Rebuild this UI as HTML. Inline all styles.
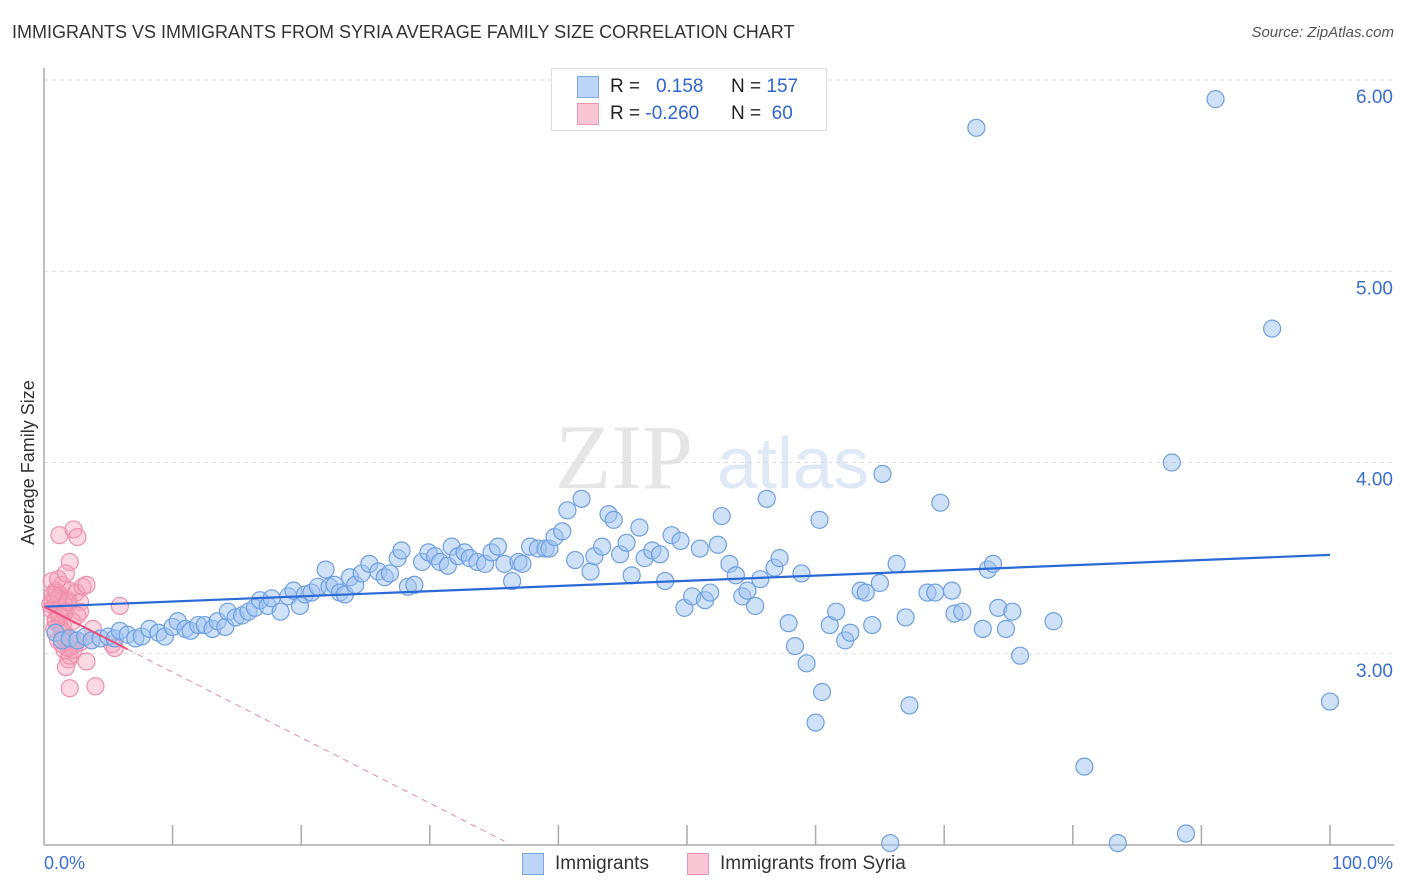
<!DOCTYPE html>
<html><head><meta charset="utf-8">
<style>
body{margin:0;background:#fff;font-family:"Liberation Sans",sans-serif;}
#wrap{position:relative;width:1406px;height:892px;overflow:hidden;}
.t{position:absolute;white-space:nowrap;}
</style></head><body>
<div id="wrap">
<div class="t" style="left:12px;top:22px;font-size:18px;color:#333;">IMMIGRANTS VS IMMIGRANTS FROM SYRIA AVERAGE FAMILY SIZE CORRELATION CHART</div>
<div class="t" style="right:12px;top:24px;font-size:15px;color:#555;font-style:italic;">Source: ZipAtlas.com</div>
<svg id="svg" width="1406" height="892" style="position:absolute;left:0;top:0"></svg>
</div>
<script>
const yTicks=[3,4,5,6];
const yTickLabels=["3.00","4.00","5.00","6.00"];
const xTicks=[10,20,30,40,50,60,70,80,90,100];
const blueX=[0.9,1.4,2.0,2.6,3.2,3.7,4.4,5.0,5.5,5.9,6.5,7.1,7.6,8.2,8.9,9.4,10.0,10.4,11.0,11.4,12.0,12.5,13.1,13.5,14.1,14.3,14.9,15.4,15.9,16.4,16.8,17.4,17.7,18.4,19.0,19.4,19.9,20.3,20.8,21.3,21.9,22.2,22.6,23.0,23.4,23.8,24.2,24.7,25.3,26.0,26.5,26.9,27.5,27.8,28.3,28.8,29.4,29.9,30.4,30.8,31.4,31.7,32.2,32.7,33.1,33.7,34.3,34.8,35.3,35.8,36.4,36.9,37.2,37.8,38.4,39.0,39.3,39.7,40.3,40.7,41.3,41.8,42.5,42.8,43.4,43.9,44.3,44.8,45.3,45.7,46.3,46.7,47.3,47.9,48.3,48.8,49.5,49.8,50.4,51.0,51.4,51.8,52.4,52.7,53.3,53.8,54.3,54.7,55.3,55.7,56.2,56.8,57.2,57.9,58.4,58.9,59.3,60.0,60.5,60.3,61.1,61.6,62.3,62.7,63.5,63.9,64.4,65.0,65.2,65.8,66.3,67.0,67.3,68.7,69.3,69.7,70.6,70.8,71.4,72.5,73.0,73.4,73.8,74.2,74.8,75.3,75.9,78.5,80.9,83.5,87.7,88.8,91.1,95.5,100];
const blueY=[3.11,3.07,3.08,3.07,3.09,3.07,3.08,3.09,3.08,3.12,3.10,3.08,3.09,3.13,3.11,3.09,3.14,3.17,3.13,3.12,3.15,3.15,3.13,3.17,3.14,3.22,3.19,3.20,3.22,3.24,3.28,3.25,3.29,3.22,3.30,3.33,3.25,3.31,3.32,3.35,3.44,3.35,3.36,3.32,3.31,3.40,3.36,3.42,3.47,3.43,3.40,3.42,3.50,3.54,3.35,3.36,3.48,3.53,3.51,3.48,3.46,3.56,3.51,3.53,3.50,3.48,3.47,3.53,3.56,3.47,3.38,3.48,3.47,3.56,3.55,3.55,3.55,3.61,3.64,3.75,3.49,3.81,3.43,3.51,3.56,3.73,3.70,3.52,3.58,3.41,3.66,3.50,3.54,3.52,3.38,3.62,3.59,3.24,3.30,3.55,3.28,3.32,3.57,3.72,3.47,3.41,3.30,3.33,3.25,3.39,3.81,3.45,3.50,3.16,3.04,3.42,2.95,2.64,2.80,3.70,3.15,3.22,3.07,3.11,3.33,3.32,3.15,3.37,3.94,2.01,3.47,3.19,2.73,3.32,3.32,3.79,3.33,3.21,3.22,5.75,3.13,3.44,3.47,3.24,3.13,3.22,2.99,3.17,2.41,2.01,4.00,2.06,5.90,4.70,2.75];
const pinkX=[0.7,0.9,1.0,1.1,1.2,0.6,0.9,1.4,1.6,1.7,1.9,2.0,1.2,2.3,2.6,2.0,2.5,2.8,3.0,3.3,2.8,5.9,1.1,1.4,1.6,1.9,2.0,2.2,1.7,2.0,4.0,3.3,3.8,5.3,5.5,2.4,2.8,1.2,1.5,0.6,0.9,1.0,1.4,1.6,1.8,0.9,1.1,1.2,0.5,0.7,2.2,2.6,3.7,1.9,2.3,0.8,1.4,1.6,1.1,1.7];
const pinkY=[3.28,3.33,3.26,3.22,3.31,3.38,3.18,3.24,3.29,3.22,3.28,3.33,3.62,3.65,3.61,3.48,3.32,3.27,3.35,3.36,3.22,3.25,3.07,3.05,3.02,2.97,2.99,3.07,2.93,2.82,2.83,2.96,3.13,3.05,3.03,3.05,3.06,3.15,3.14,3.23,3.28,3.32,3.36,3.22,3.27,3.17,3.29,3.20,3.26,3.31,3.17,3.20,3.07,3.03,3.02,3.13,3.12,3.08,3.39,3.42];
const blueTrend=[3.246,3.517];
const pinkTrend=[3.246,2.02]; // at x=0 and x=35.8
const pinkTrendEndX=35.8;
const pinkSolidEndX=6.5;

const NS="http://www.w3.org/2000/svg";
const svg=document.getElementById('svg');
const X0=44,X1=1330,Y0=845,PPU=191.25,YMIN=2;
function sx(v){return X0+(X1-X0)*v/100;}
function sy(v){return Y0-(v-YMIN)*PPU;}
function mk(tag,attrs){const e=document.createElementNS(NS,tag);for(const k in attrs)e.setAttribute(k,attrs[k]);svg.appendChild(e);return e;}

// watermark
let wm=mk('text',{x:555,y:488,'font-size':92,'font-family':'Liberation Serif, serif',fill:'#e6e6e6'});wm.textContent='ZIP';


let wm2=mk('text',{x:717,y:488,'font-size':72,'font-family':'Liberation Sans, sans-serif',fill:'#dfe8f5'});wm2.textContent='atlas';



// grid + y labels
yTicks.forEach((v,i)=>{
  const g=mk('line',{x1:X0,x2:1394,y1:sy(v),y2:sy(v),stroke:'#dcdcdc','stroke-dasharray':'4,4'});
  
  
  const t=mk('text',{x:1393,y:sy(v)+23,'text-anchor':'end','font-size':19,fill:'#3a6fd0'});
  t.textContent=yTickLabels[i];
  
  
});
// axes
let ax=mk('line',{x1:X0,x2:X0,y1:68,y2:Y0,stroke:'#aaa','stroke-width':1.5});


let bx=mk('line',{x1:X0,x2:1394,y1:Y0,y2:Y0,stroke:'#aaa','stroke-width':1.5});


xTicks.forEach(v=>{
  const l=mk('line',{x1:sx(v),x2:sx(v),y1:825,y2:Y0,stroke:'#aaa','stroke-width':1.5});
  
  
});
// points
pinkX.forEach((x,i)=>{
  const c=mk('circle',{cx:sx(x),cy:sy(pinkY[i]),r:8.5,fill:'rgba(244,160,186,0.4)',stroke:'#ee8fac','stroke-width':1.2});
  
  
});
blueX.forEach((x,i)=>{
  const c=mk('circle',{cx:sx(x),cy:sy(blueY[i]),r:8.5,fill:'rgba(160,195,240,0.5)',stroke:'#6f9fe2','stroke-width':1.2});
  
  
});
// trends
let bt=mk('line',{x1:sx(0),y1:sy(blueTrend[0]),x2:sx(100),y2:sy(blueTrend[1]),stroke:'#2b6ad6','stroke-width':2.2});


const ps=(pinkTrend[1]-pinkTrend[0])/pinkTrendEndX;
let pt1=mk('line',{x1:sx(0),y1:sy(pinkTrend[0]),x2:sx(pinkSolidEndX),y2:sy(pinkTrend[0]+ps*pinkSolidEndX),stroke:'#e8507e','stroke-width':2});


let pt2=mk('line',{x1:sx(pinkSolidEndX),y1:sy(pinkTrend[0]+ps*pinkSolidEndX),x2:sx(pinkTrendEndX),y2:sy(pinkTrend[1]),stroke:'#eb8aa6','stroke-width':1,'stroke-dasharray':'6,5'});


</script>
<div class="t" style="left:18px;top:545px;transform:rotate(-90deg);transform-origin:0 0;font-size:18px;color:#333;">Average Family Size</div>
<div class="t" style="left:44px;top:853px;font-size:18px;color:#3a6fd0;">0.0%</div>
<div class="t" style="right:13px;top:853px;font-size:18px;color:#3a6fd0;">100.0%</div>
<div class="t" style="left:551px;top:68px;width:274px;height:61px;border:1px solid #ddd;background:#fff;">
  <div class="t" style="left:25px;top:7px;width:20px;height:20px;background:#bcd4f6;border:1px solid #7fa8e6;"></div>
  <div class="t" style="left:58px;top:7px;font-size:19px;color:#222;">R = &nbsp;&nbsp;<span style="color:#2f66d0">0.158</span></div>
  <div class="t" style="left:179px;top:7px;font-size:19px;color:#222;">N = <span style="color:#2f66d0">157</span></div>
  <div class="t" style="left:25px;top:34px;width:20px;height:20px;background:#f8c6d5;border:1px solid #ee95b0;"></div>
  <div class="t" style="left:58px;top:34px;font-size:19px;color:#222;">R = <span style="color:#2f66d0">-0.260</span></div>
  <div class="t" style="left:179px;top:34px;font-size:19px;color:#222;">N = &nbsp;<span style="color:#2f66d0">60</span></div>
</div>
<div class="t" style="left:522px;top:853px;width:20px;height:20px;background:#bcd4f6;border:1px solid #7fa8e6;"></div>
<div class="t" style="left:555px;top:853px;font-size:19px;color:#333;">Immigrants</div>
<div class="t" style="left:687px;top:853px;width:20px;height:20px;background:#f8c6d5;border:1px solid #ee95b0;"></div>
<div class="t" style="left:720px;top:853px;font-size:19px;color:#333;">Immigrants from Syria</div>
</body></html>
